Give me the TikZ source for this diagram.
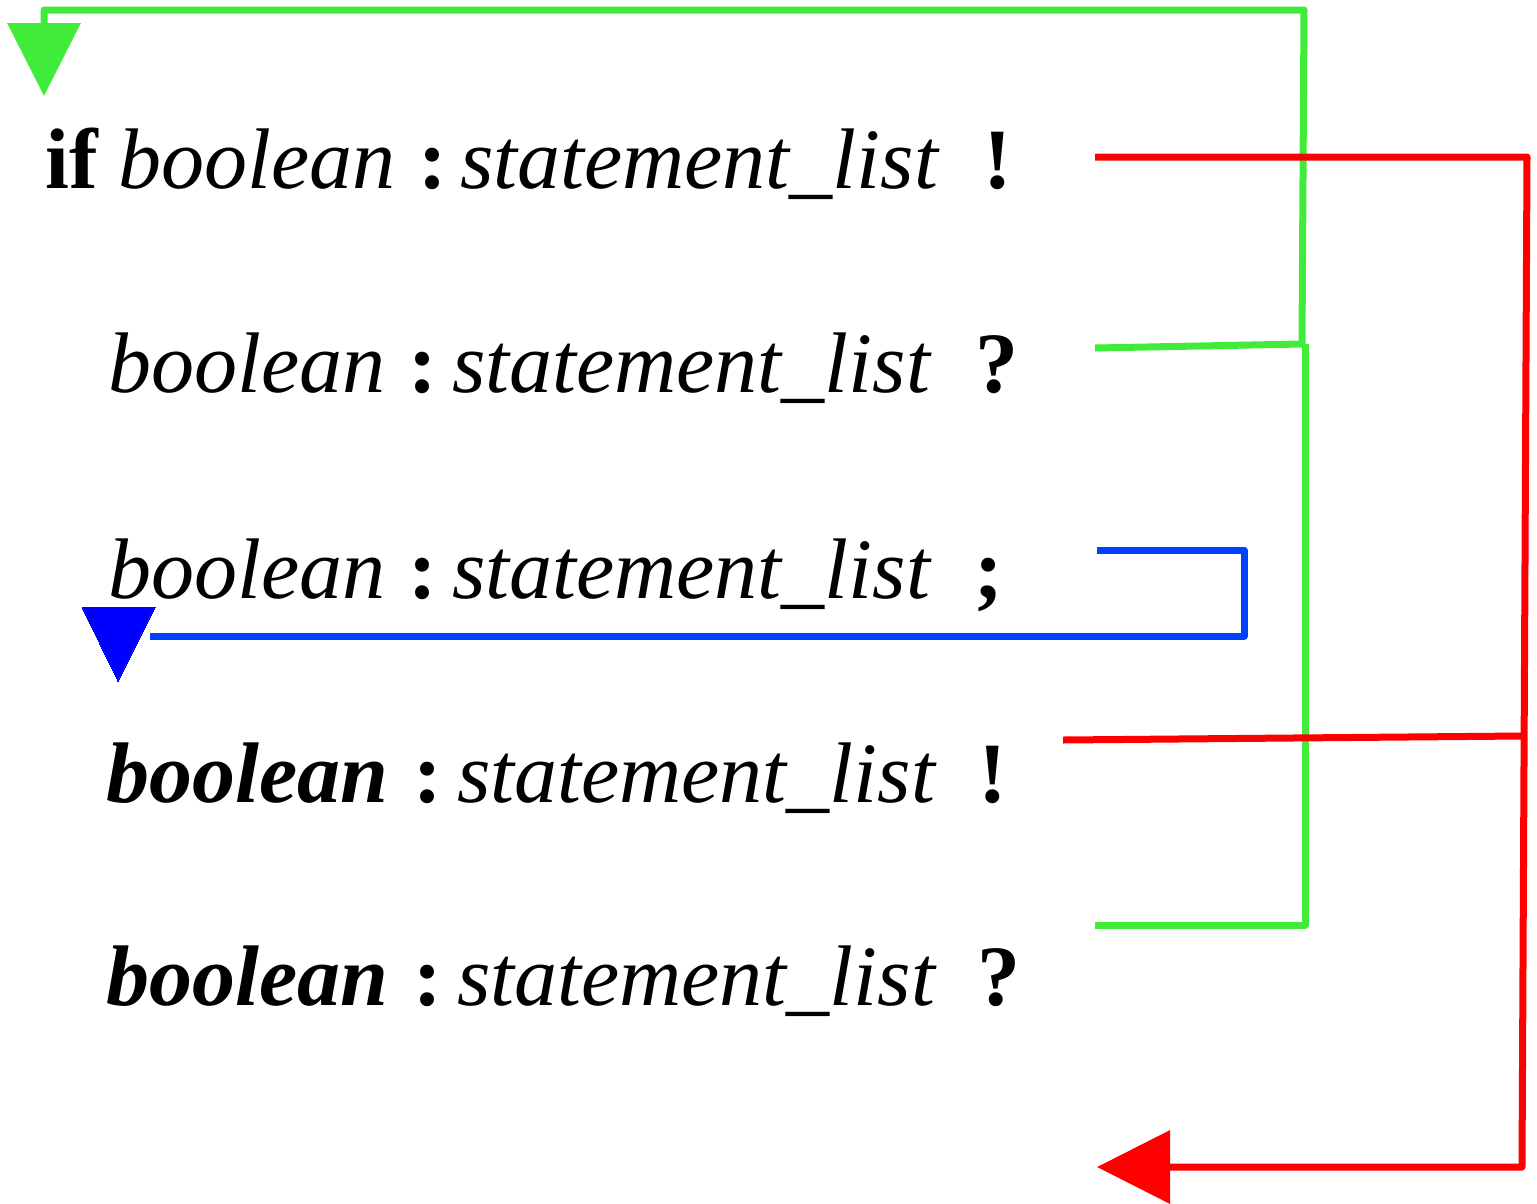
\documentclass[tikz,border=0pt]{standalone}
\usepackage{fontspec}
\setmainfont{Liberation Serif}
\usetikzlibrary{arrows.meta}
\definecolor{loopgreen}{RGB}{64,235,58}
\definecolor{exitred}{RGB}{255,0,0}
\definecolor{nextblue}{RGB}{0,64,255}
\definecolor{tipblue}{RGB}{0,0,255}
\begin{document}
\begin{tikzpicture}[x=1pt,y=-1pt,
  word/.style={inner sep=0pt,anchor=base west,font=\fontsize{86}{90}\selectfont},
  wire/.style={line width=7pt,line join=round},
  bigtip/.style={-{Triangle[length=73pt,width=72pt]}}]
\useasboundingbox (0,0) rectangle (1537,1203);

% guarded commands, one per line
\node[word] (k1) at (45,188) {\textbf{if}};
\node[word] (b1) at (118,188) {\textit{boolean}};
\node[word] (c1) at (418,188) {\textbf{:}};
\node[word] (s1) at (460,188) {\textit{statement\_list}};
\node[word] (e1) at (983,188) {\textbf{!}};

\node[word] (b2) at (108,392) {\textit{boolean}};
\node[word] (c2) at (408,392) {\textbf{:}};
\node[word] (s2) at (452,392) {\textit{statement\_list}};
\node[word] (e2) at (975,392) {\textbf{?}};

\node[word] (b3) at (108,598) {\textit{boolean}};
\node[word] (c3) at (408,598) {\textbf{:}};
\node[word] (s3) at (452,598) {\textit{statement\_list}};
\node[word] (e3) at (974,598) {\textbf{;}};

\node[word] (b4) at (106,802) {\textbf{\textit{boolean}}};
\node[word] (c4) at (413,802) {\textbf{:}};
\node[word] (s4) at (457,802) {\textit{statement\_list}};
\node[word] (e4) at (978,802) {\textbf{!}};

\node[word] (b5) at (106,1005) {\textbf{\textit{boolean}}};
\node[word] (c5) at (413,1005) {\textbf{:}};
\node[word] (s5) at (457,1005) {\textit{statement\_list}};
\node[word] (e5) at (977,1005) {\textbf{?}};

% connector ends
\coordinate (o1) at (1095,157);
\coordinate (o2) at (1095,348);
\coordinate (o3) at (1097,550);
\coordinate (o4) at (1063,740);
\coordinate (o5) at (1095,925);
\coordinate (top) at (44,96);
\coordinate (next) at (118,681);
\coordinate (out) at (1097,1167);

% "?" branches: back to the top
\draw[wire,loopgreen] (o5) -- (1305,925) -- (1305,344);
\draw[wire,loopgreen,bigtip] (o2) -- (1302,344) -- (1304,10) -- (44,10) -- (top);

% "!" branches: out of the statement
\draw[wire,exitred] (o4) -- (1522,736);
\draw[wire,exitred,bigtip] (o1) -- (1527,157) -- (1522,1167) -- (out);

% ";" branch: on to the next guard
\draw[wire,nextblue] (o3) -- (1244,550) -- (1244,636) -- (150,636);
\draw[line width=0pt,tipblue,fill=tipblue] (82,607) -- (155,607) -- (next) -- cycle;
\end{tikzpicture}
\end{document}
